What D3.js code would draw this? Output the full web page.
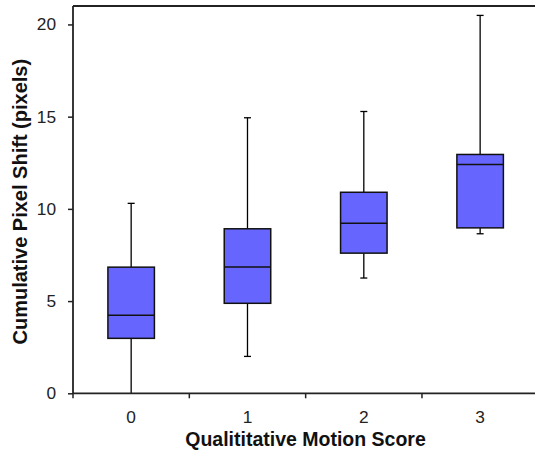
<!DOCTYPE html>
<html><head><meta charset="utf-8">
<script src="https://cdn.jsdelivr.net/npm/d3@7"></script>
<style>body{margin:0;background:#fff}svg{display:block}</style>
</head><body>
<svg id="c" width="535" height="454"></svg>
<script>
const categories = ["0","1","2","3"];
const whiskerLow  = [0.0, 2.0, 6.25, 8.65];
const q1          = [2.98, 4.88, 7.6, 8.97];
const median      = [4.23, 6.85, 9.22, 12.41];
const q3          = [6.84, 8.92, 10.9, 12.95];
const whiskerHigh = [10.3, 14.94, 15.28, 20.49];
const yTicks = [0,5,10,15,20];

const svg = d3.select("#c");
const m = {left:73, top:6, right:538.3, bottom:393.3};
const x = d3.scaleBand().domain(categories).range([m.left, m.right]);
const y = d3.scaleLinear().domain([0,21]).range([m.bottom, m.top]);
const font = "Liberation Sans, Arial, sans-serif";

const data = categories.map((c,i)=>({c, lo:whiskerLow[i], q1:q1[i], med:median[i], q3:q3[i], hi:whiskerHigh[i]}));
const bw = 46.5, capW = 7;
const g = svg.append("g");
data.forEach(d=>{
  const cx = x(d.c) + x.bandwidth()/2;
  g.append("line").attr("x1",cx).attr("x2",cx).attr("y1",y(d.q3)).attr("y2",y(d.hi)).attr("stroke","#000").attr("stroke-width",1.3);
  g.append("line").attr("x1",cx).attr("x2",cx).attr("y1",y(d.q1)).attr("y2",y(d.lo)).attr("stroke","#000").attr("stroke-width",1.3);
  if (d.hi>0) g.append("line").attr("x1",cx-capW/2).attr("x2",cx+capW/2).attr("y1",y(d.hi)).attr("y2",y(d.hi)).attr("stroke","#000").attr("stroke-width",1.3);
  if (d.lo>0) g.append("line").attr("x1",cx-capW/2).attr("x2",cx+capW/2).attr("y1",y(d.lo)).attr("y2",y(d.lo)).attr("stroke","#000").attr("stroke-width",1.3);
  g.append("rect").attr("x",cx-bw/2).attr("width",bw).attr("y",y(d.q3)).attr("height",y(d.q1)-y(d.q3))
    .attr("fill","#6666ff").attr("stroke","#111").attr("stroke-width",1.5);
  g.append("line").attr("x1",cx-bw/2).attr("x2",cx+bw/2).attr("y1",y(d.med)).attr("y2",y(d.med)).attr("stroke","#111").attr("stroke-width",1.5);
});

// top border
svg.append("line").attr("x1",m.left).attr("x2",535).attr("y1",m.top).attr("y2",m.top).attr("stroke","#222").attr("stroke-width",1.8);

// y axis
const ya = svg.append("g").attr("transform",`translate(${m.left},0)`)
  .call(d3.axisLeft(y).tickValues(yTicks).tickSize(5).tickPadding(12).tickFormat(d3.format("d")));
ya.select(".domain").attr("d",`M0,${m.top}V${m.bottom}`).attr("stroke","#222").attr("stroke-width",1.8);
ya.selectAll(".tick line").attr("stroke","#222").attr("stroke-width",1.5);
ya.selectAll("text").attr("font-family",font).attr("font-size",17.3).attr("fill","#222");

// x axis: ticks at band boundaries
const xa = svg.append("g").attr("transform",`translate(0,${m.bottom})`);
xa.append("line").attr("x1",m.left).attr("x2",535).attr("stroke","#222").attr("stroke-width",1.8);
const bounds = categories.map(c=>x(c));
xa.selectAll(".tk").data(bounds).join("line").attr("x1",d=>d).attr("x2",d=>d).attr("y1",0).attr("y2",5).attr("stroke","#222").attr("stroke-width",1.5);
xa.selectAll(".lb").data(categories).join("text").attr("x",d=>x(d)+x.bandwidth()/2).attr("y",30)
  .attr("text-anchor","middle").attr("font-family",font).attr("font-size",17.3).attr("fill","#222").text(d=>d);

svg.append("text").attr("x",305.5).attr("y",446).attr("text-anchor","middle")
  .attr("font-family",font).attr("font-weight","bold").attr("font-size",19.5).attr("fill","#111")
  .text("Qualititative Motion Score");
svg.append("text").attr("transform",`translate(27,201.7) rotate(-90)`).attr("text-anchor","middle")
  .attr("font-family",font).attr("font-weight","bold").attr("font-size",20).attr("fill","#111")
  .text("Cumulative Pixel Shift (pixels)");
</script>
</body></html>
